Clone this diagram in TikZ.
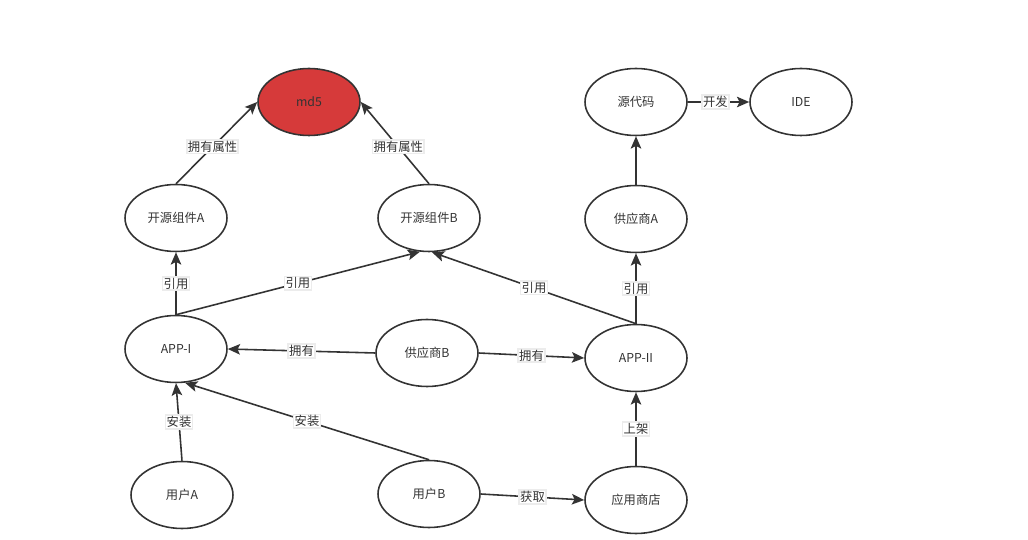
\documentclass[tikz,border=0pt]{standalone}
\usepackage{fontspec}
\setmainfont{Noto Sans CJK SC}
\usepackage{tikz}
\usetikzlibrary{shapes.geometric,arrows.meta}
\usepackage{xcolor}
\definecolor{ink}{HTML}{333333}
\definecolor{hashred}{HTML}{D63A3A}

\begin{document}
\begin{tikzpicture}[x=0.02cm,y=-0.02cm,
    blob/.style={ellipse, draw=ink, line width=0.9pt, minimum width=2.04cm, minimum height=1.34cm,
      inner sep=0pt, text=ink, font=\fontsize{7}{8}\selectfont},
    rel/.style={draw=ink, line width=0.9pt, -{Stealth[length=7pt,width=6pt,inset=1.5pt]}},
    lbl/.style={fill=white, draw=gray!15, inner sep=0.6pt, text=ink, font=\fontsize{7}{8}\selectfont}]
    \useasboundingbox (0,0) rectangle (1028,540);
    \node[blob, fill=hashred] (md5) at (309,102) {md5};
    \node[blob] (srcA) at (176,218) {开源组件A};
    \node[blob] (srcB) at (429,218) {开源组件B};
    \node[blob] (code) at (636,102) {源代码};
    \node[blob] (ide) at (801,102) {IDE};
    \node[blob] (vendA) at (636,219) {供应商A};
    \node[blob] (appI) at (176,349) {APP-I};
    \node[blob] (vendB) at (427,353) {供应商B};
    \node[blob] (appII) at (636,358) {APP-II};
    \node[blob] (userA) at (182,495) {用户A};
    \node[blob] (userB) at (429,494) {用户B};
    \node[blob] (store) at (636,500) {应用商店};
    \draw[rel] (srcA.north) -- (md5.west) node[lbl, pos=0.45] {拥有属性};
    \draw[rel] (srcB.north) -- (md5.east) node[lbl, pos=0.45] {拥有属性};
    \draw[rel] (code.east) -- (ide.west) node[lbl, pos=0.45] {开发};
    \draw[rel] (vendA.north) -- (code.south);
    \draw[rel] (appI.north) -- (srcA.south) node[lbl, midway] {引用};
    \draw[rel] (appI.north) -- (srcB.255) node[lbl, midway] {引用};
    \draw[rel] (appII.north) -- (srcB.275) node[lbl, midway] {引用};
    \draw[rel] (appII.north) -- (vendA.south) node[lbl, midway] {引用};
    \draw[rel] (vendB.west) -- (appI.east) node[lbl, midway] {拥有};
    \draw[rel] (vendB.east) -- (appII.west) node[lbl, midway] {拥有};
    \draw[rel] (userA.north) -- (appI.south) node[lbl, midway] {安装};
    \draw[rel] (userB.north) -- (appI.285) node[lbl, midway] {安装};
    \draw[rel] (userB.east) -- (store.west) node[lbl, midway] {获取};
    \draw[rel] (store.north) -- (appII.south) node[lbl, midway] {上架};
\end{tikzpicture}
\end{document}
